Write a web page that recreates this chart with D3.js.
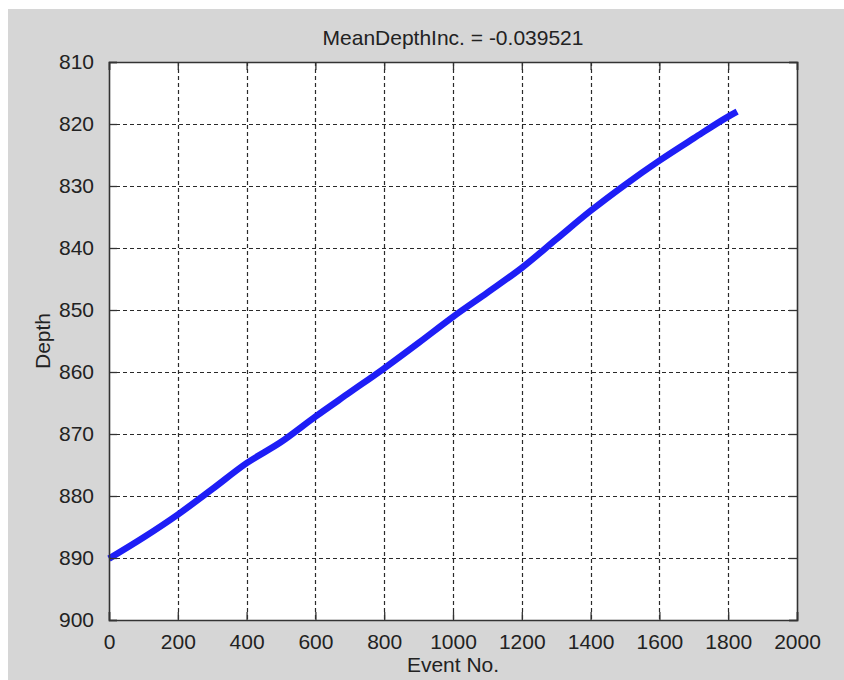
<!DOCTYPE html>
<html>
<head>
<meta charset="utf-8">
<script src="https://cdn.jsdelivr.net/npm/d3@7/dist/d3.min.js"></script>
<style>
  html, body { margin: 0; padding: 0; background: #ffffff; }
  svg { display: block; }
  text { font-family: "Liberation Sans", Arial, sans-serif; fill: #222; }
</style>
</head>
<body>
<svg id="chart" width="844" height="680"></svg>
<script>
// Event index vs. depth (depth axis runs downward)
const eventNo = [0, 100, 200, 300, 400, 500, 600, 700, 800, 900, 1000, 1100, 1200, 1300, 1400, 1500, 1600, 1700, 1800, 1826];
const depth   = [890.1, 886.7, 883.0, 878.9, 874.7, 871.3, 867.2, 863.3, 859.4, 855.3, 851.1, 847.2, 843.2, 838.6, 834.0, 829.8, 825.9, 822.3, 818.8, 818.0];

const xTicks = [0, 200, 400, 600, 800, 1000, 1200, 1400, 1600, 1800, 2000];
const yTicks = [810, 820, 830, 840, 850, 860, 870, 880, 890, 900];

const titleText = "MeanDepthInc. = -0.039521";
const xLabel = "Event No.";
const yLabel = "Depth";

const W = 844, H = 680;
const plot = { left: 109, right: 797, top: 62, bottom: 620 };

const svg = d3.select("#chart");

// figure background
svg.append("rect").attr("x", 8).attr("y", 9).attr("width", W - 8).attr("height", H - 9)
  .attr("fill", "#d6d6d6");

// axes background
svg.append("rect")
  .attr("x", plot.left).attr("y", plot.top)
  .attr("width", plot.right - plot.left).attr("height", plot.bottom - plot.top)
  .attr("fill", "#ffffff");

const x = d3.scaleLinear().domain([0, 2000]).range([plot.left, plot.right]);
const y = d3.scaleLinear().domain([810, 900]).range([plot.top, plot.bottom]);

// dashed grid
const grid = svg.append("g").attr("stroke", "#2a2a2a").attr("stroke-width", 1.2)
  .attr("stroke-dasharray", "4,3").attr("fill", "none");
grid.selectAll("line.gx").data(xTicks.slice(1, -1)).join("line")
  .attr("x1", d => Math.round(x(d)) + 0.5).attr("x2", d => Math.round(x(d)) + 0.5)
  .attr("y1", plot.top).attr("y2", plot.bottom);
grid.selectAll("line.gy").data(yTicks.slice(1, -1)).join("line")
  .attr("y1", d => Math.round(y(d)) + 0.5).attr("y2", d => Math.round(y(d)) + 0.5)
  .attr("x1", plot.left).attr("x2", plot.right);

// data line
const line = d3.line().x((d, i) => x(eventNo[i])).y(d => y(d)).curve(d3.curveMonotoneX);
svg.append("path")
  .datum(depth)
  .attr("d", line)
  .attr("fill", "none")
  .attr("stroke", "#1e1ef6")
  .attr("stroke-width", 6.5)
  .attr("stroke-linejoin", "round")
  .attr("stroke-linecap", "butt");

// axes (inward ticks on all four sides)
const tickLen = 8;
const fontSize = 21;
const axisColor = "#333";

const bottomAxis = d3.axisBottom(x).tickValues(xTicks).tickSize(-tickLen).tickPadding(tickLen + 6).tickFormat(d3.format("d"));
const topAxis = d3.axisTop(x).tickValues(xTicks).tickSize(-tickLen).tickFormat("");
const leftAxis = d3.axisLeft(y).tickValues(yTicks).tickSize(-tickLen).tickPadding(tickLen + 7).tickFormat(d3.format("d"));
const rightAxis = d3.axisRight(y).tickValues(yTicks).tickSize(-tickLen).tickFormat("");

function styleAxis(g) {
  g.select(".domain").attr("stroke", axisColor).attr("stroke-width", 1.6);
  g.selectAll(".tick line").attr("stroke", axisColor).attr("stroke-width", 1.3);
  g.selectAll(".tick text").attr("fill", "#222").attr("font-size", fontSize)
    .attr("font-family", "'Liberation Sans', Arial, sans-serif");
}

svg.append("g").attr("transform", `translate(0,${plot.bottom})`).call(bottomAxis).call(styleAxis);
svg.append("g").attr("transform", `translate(0,${plot.top})`).call(topAxis).call(styleAxis);
svg.append("g").attr("transform", `translate(${plot.left},0)`).call(leftAxis).call(styleAxis);
svg.append("g").attr("transform", `translate(${plot.right},0)`).call(rightAxis).call(styleAxis);

// title and axis labels
svg.append("text").attr("x", (plot.left + plot.right) / 2).attr("y", 45)
  .attr("text-anchor", "middle").attr("font-size", fontSize).text(titleText);
svg.append("text").attr("x", (plot.left + plot.right) / 2).attr("y", 672)
  .attr("text-anchor", "middle").attr("font-size", fontSize).text(xLabel);
svg.append("text")
  .attr("transform", `translate(50,${(plot.top + plot.bottom) / 2}) rotate(-90)`)
  .attr("text-anchor", "middle").attr("font-size", fontSize).text(yLabel);
</script>
</body>
</html>
